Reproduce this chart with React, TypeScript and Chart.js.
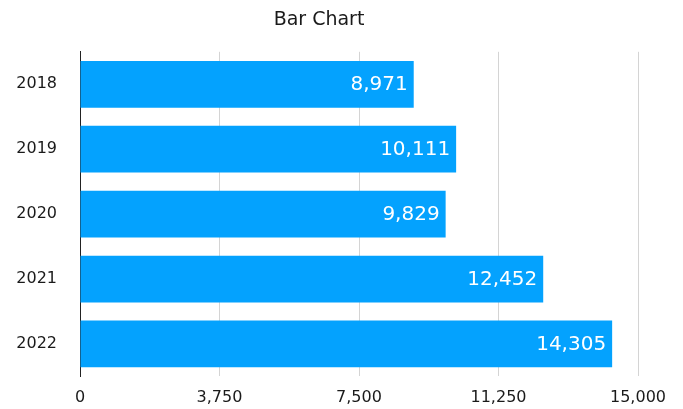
import React, { useEffect, useRef } from "react";
import { Chart, registerables } from "chart.js";

Chart.register(...registerables);

const categories = ["2018", "2019", "2020", "2021", "2022"];
const values = [8971, 10111, 9829, 12452, 14305];
const xTicks = [0, 3750, 7500, 11250, 15000];
const chartTitle = "Bar Chart";

const FONT = "'DejaVu Sans', 'Liberation Sans', Arial, sans-serif";

const valueLabels = {
  id: "valueLabels",
  afterDatasetsDraw(chart: any) {
    const ctx = chart.ctx;
    const meta = chart.getDatasetMeta(0);
    ctx.save();
    ctx.fillStyle = "#ffffff";
    ctx.font = `20px ${FONT}`;
    ctx.textAlign = "right";
    ctx.textBaseline = "middle";
    meta.data.forEach((bar: any, i: number) => {
      const v = chart.data.datasets[0].data[i] as number;
      ctx.fillText(v.toLocaleString("en-US"), bar.x - 6, bar.y + 1);
    });
    ctx.restore();
  },
};

export default function App() {
  const ref = useRef<HTMLCanvasElement | null>(null);
  useEffect(() => {
    document.body.style.margin = "0";
    if (!ref.current) return;
    const chart = new Chart(ref.current, {
      type: "bar",
      data: {
        labels: categories,
        datasets: [
          {
            data: values,
            backgroundColor: "rgb(4,162,254)",
            borderWidth: 0,
            barPercentage: 0.72,
            categoryPercentage: 1,
          },
        ],
      },
      options: {
        indexAxis: "y",
        animation: false,
        responsive: true,
        maintainAspectRatio: false,
        layout: { padding: { left: 0, right: 45, top: 0, bottom: 0 } },
        plugins: {
          legend: { display: false },
          tooltip: { enabled: false },
          title: {
            display: true,
            text: chartTitle,
            color: "#1a1a1a",
            font: { family: FONT, size: 19, weight: "normal" },
            padding: { top: 9, bottom: 20 },
          },
        },
        scales: {
          x: {
            min: 0,
            max: 15000,
            afterBuildTicks: (scale: any) => {
              scale.ticks = xTicks.map((v) => ({ value: v }));
            },
            afterFit: (scale: any) => {
              scale.height = 30;
            },
            ticks: {
              color: "#1a1a1a",
              font: { family: FONT, size: 16 },
              padding: 12,
              maxRotation: 0,
              callback: (v: any) => Number(v).toLocaleString("en-US"),
            },
            grid: { color: "#d4d4d4", drawTicks: false, lineWidth: 1 },
            border: { display: false },
          },
          y: {
            afterFit: (scale: any) => {
              scale.width = 80;
            },
            ticks: {
              color: "#1a1a1a",
              font: { family: FONT, size: 16 },
              padding: 23,
            },
            grid: { display: false, drawTicks: false },
            border: { display: true, color: "#222222", width: 1 },
          },
        },
      },
      plugins: [valueLabels],
    });
    return () => chart.destroy();
  }, []);
  return (
    <div style={{ width: 683, height: 409, position: "relative" }}>
      <canvas ref={ref} />
    </div>
  );
}
